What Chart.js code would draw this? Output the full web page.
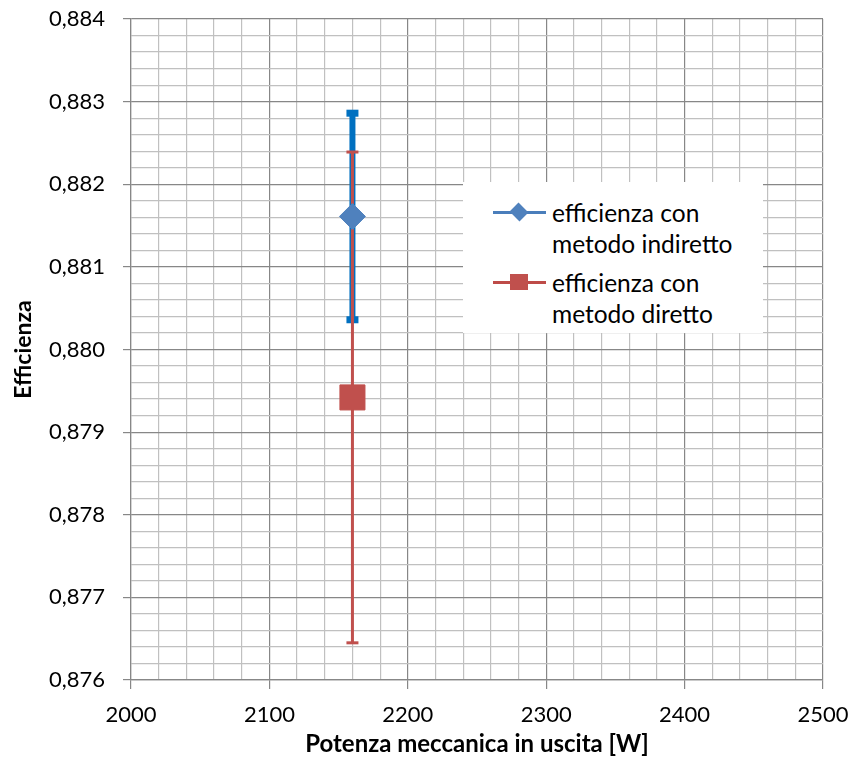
<!DOCTYPE html>
<html>
<head>
<meta charset="utf-8">
<script src="https://cdn.jsdelivr.net/npm/chart.js@4.4.1/dist/chart.umd.min.js"></script>
<style>
  html, body { margin: 0; padding: 0; background: #fff; }
  #wrap { position: relative; width: 852px; height: 769px; }
  #legend {
    position: absolute; left: 463px; top: 182px; width: 300px; height: 151px;
    background: #fff; font-family: Lato, "Open Sans", sans-serif; font-size: 24.5px; color: #000;
  }
  .item { position: absolute; left: 0; width: 300px; height: 62px; }
  .item .txt { position: absolute; left: 89px; top: 0; line-height: 31px; white-space: nowrap; }
  .item .ln { position: absolute; left: 30px; top: 14px; width: 53px; height: 3px; }
  .item .mk { position: absolute; }
</style>
</head>
<body>
<div id="wrap">
  <canvas id="chart" width="852" height="769"></canvas>
  <div id="legend"></div>
</div>
<script>
// --- Data ---
const xValues = [2160];
const effIndiretto = [0.88161];
const errIndiretto = [0.00125];
const effDiretto = [0.87942];
const errDiretto = [0.00297];
const seriesLabels = ['efficienza con metodo indiretto', 'efficienza con metodo diretto'];

const xTicks = { min: 2000, max: 2500, major: 100, minor: 20 };
const yTicks = { min: 0.876, max: 0.884, major: 0.001, minor: 0.0002 };

// --- Style ---
const FONT = 'Lato, "Open Sans", sans-serif';
const MAJOR_GRID = '#878787';
const MINOR_GRID = '#C0C0C0';
const BLUE = '#4F81BD';
const BLUE_ERR = '#0070C0';
const RED = '#C0504D';

const points = (ys) => xValues.map((x, i) => ({ x, y: ys[i] }));
const errorSegment = (ys, errs) => xValues.flatMap((x, i) => [
  { x, y: ys[i] - errs[i] },
  { x, y: ys[i] + errs[i] },
]);

const isMajorX = v => Math.abs(v / xTicks.major - Math.round(v / xTicks.major)) < 1e-6;
const isMajorY = v => Math.abs(v / yTicks.major - Math.round(v / yTicks.major)) < 1e-6;

const datasets = [
  {
    label: seriesLabels[0],
    data: points(effIndiretto),
    showLine: false,
    pointStyle: 'rectRot',
    pointRadius: 13,
    pointBackgroundColor: BLUE,
    pointBorderColor: BLUE,
    pointBorderWidth: 1,
  },
  {
    label: seriesLabels[1],
    data: points(effDiretto),
    showLine: false,
    pointStyle: 'rect',
    pointRadius: 17.7,
    pointBackgroundColor: RED,
    pointBorderColor: RED,
    pointBorderWidth: 1,
  },
  {
    label: 'err diretto',
    data: errorSegment(effDiretto, errDiretto),
    showLine: true,
    borderColor: RED,
    borderWidth: 3,
    pointStyle: 'line',
    pointRadius: 6,
    pointBorderColor: RED,
    pointBorderWidth: 3,
  },
  {
    label: 'err indiretto',
    data: errorSegment(effIndiretto, errIndiretto),
    showLine: true,
    borderColor: BLUE_ERR,
    borderWidth: 6,
    pointStyle: 'line',
    pointRadius: 6,
    pointBorderColor: BLUE_ERR,
    pointBorderWidth: 7,
  },
];

new Chart(document.getElementById('chart'), {
  type: 'scatter',
  data: { datasets },
  options: {
    responsive: false,
    animation: false,
    events: [],
    layout: { autoPadding: false, padding: { top: 19, right: 29, left: 0, bottom: 0 } },
    plugins: { legend: { display: false }, tooltip: { enabled: false } },
    scales: {
      x: {
        type: 'linear',
        min: xTicks.min,
        max: xTicks.max,
        // fixed box so the plot area lands where the reference has it
        afterFit: s => { s.height = 89; s.paddingLeft = 0; s.paddingRight = 0; },
        ticks: {
          stepSize: xTicks.minor,
          autoSkip: false,
          maxRotation: 0,
          padding: 13,
          color: '#000',
          font: { family: FONT, size: 22 },
          callback: v => (isMajorX(v) ? String(v) : ''),
        },
        grid: {
          color: c => (c.tick && isMajorX(c.tick.value) ? MAJOR_GRID : MINOR_GRID),
          tickColor: c => (c.tick && isMajorX(c.tick.value) ? MAJOR_GRID : 'rgba(0,0,0,0)'),
          tickLength: 9,
          lineWidth: 1.2,
        },
        border: { color: MAJOR_GRID, width: 1.2 },
        title: {
          display: true,
          text: 'Potenza meccanica in uscita [W]',
          color: '#000',
          font: { family: FONT, size: 24, weight: 'bold' },
          padding: { top: 0, bottom: 10 },
        },
      },
      y: {
        type: 'linear',
        min: yTicks.min,
        max: yTicks.max,
        afterFit: s => { s.width = 131; s.paddingTop = 0; s.paddingBottom = 0; },
        ticks: {
          stepSize: yTicks.minor,
          autoSkip: false,
          padding: 18,
          color: '#000',
          font: { family: FONT, size: 22 },
          callback: v => (isMajorY(v) ? v.toFixed(3).replace('.', ',') : ''),
        },
        grid: {
          color: c => (c.tick && isMajorY(c.tick.value) ? MAJOR_GRID : MINOR_GRID),
          tickColor: c => (c.tick && isMajorY(c.tick.value) ? MAJOR_GRID : 'rgba(0,0,0,0)'),
          tickLength: 8,
          lineWidth: 1.2,
        },
        border: { color: MAJOR_GRID, width: 1.2 },
        title: {
          display: true,
          text: 'Efficienza',
          color: '#000',
          font: { family: FONT, size: 23, weight: 'bold' },
          padding: { top: 10, bottom: 0 },
        },
      },
    },
  },
});

// --- HTML legend (two-line labels) ---
const legendItems = [
  { lines: ['efficienza con', 'metodo indiretto'], color: '#4A7EBB', shape: 'diamond', top: 14.5 },
  { lines: ['efficienza con', 'metodo diretto'], color: '#BE4B48', shape: 'square', top: 84.5 },
];
const legend = document.getElementById('legend');
legendItems.forEach(item => {
  const el = document.createElement('div');
  el.className = 'item';
  el.style.top = item.top + 'px';
  const mk = item.shape === 'diamond'
    ? `<div class="mk" style="left:49px;top:8.5px;width:14px;height:14px;background:${BLUE};transform:rotate(45deg) scaleY(0.9);"></div>`
    : `<div class="mk" style="left:47px;top:7.5px;width:18px;height:16px;background:${RED};"></div>`;
  el.innerHTML = `<div class="ln" style="background:${item.color}"></div>${mk}<div class="txt">${item.lines.join('<br>')}</div>`;
  legend.appendChild(el);
});
</script>
</body>
</html>
